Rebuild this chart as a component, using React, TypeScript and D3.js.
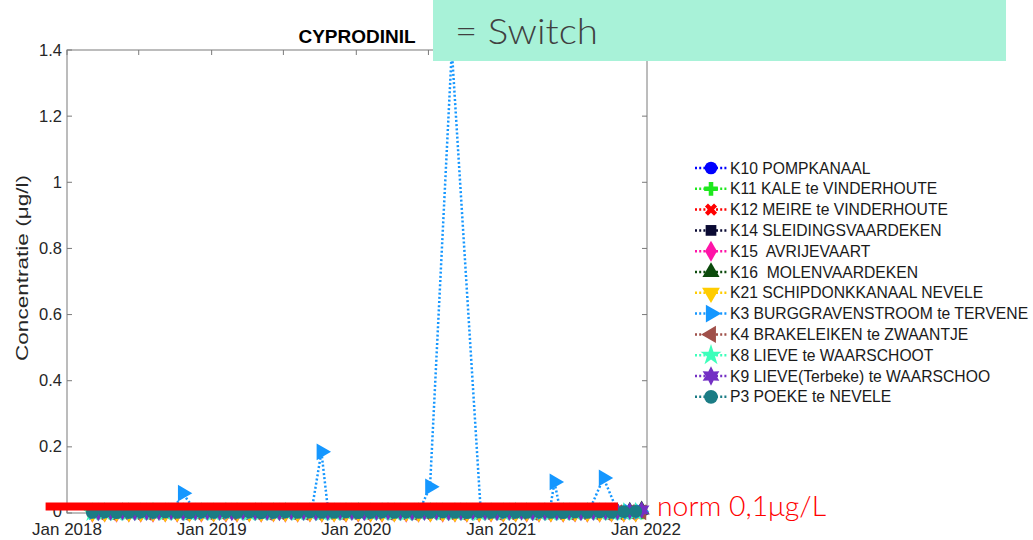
import * as React from 'react';
import * as d3 from 'd3';

import type { RefObject } from 'react';

// sampling dates (two sampling rounds per month)
const datesA = [
  '2018-03-06', '2018-04-06', '2018-05-06', '2018-06-06', '2018-07-06', '2018-08-06', '2018-09-06', '2018-10-06', '2018-11-06', '2018-12-06',
  '2019-01-06', '2019-02-06', '2019-03-06', '2019-04-06', '2019-05-06', '2019-06-06', '2019-07-06', '2019-08-06', '2019-09-06', '2019-10-06', '2019-11-06', '2019-12-06',
  '2020-01-06', '2020-02-06', '2020-03-06', '2020-04-06', '2020-05-06', '2020-06-06', '2020-07-06', '2020-08-06', '2020-09-06', '2020-10-06', '2020-11-06', '2020-12-06',
  '2021-01-06', '2021-02-06', '2021-03-06', '2021-04-06', '2021-05-06', '2021-06-06', '2021-07-06', '2021-08-06', '2021-09-06', '2021-10-06', '2021-11-06', '2021-12-06',
];
const datesB = [
  '2018-03-21', '2018-04-21', '2018-05-21', '2018-06-21', '2018-07-21', '2018-08-21', '2018-09-21', '2018-10-21', '2018-11-21', '2018-12-21',
  '2019-01-21', '2019-02-21', '2019-03-21', '2019-04-21', '2019-05-21', '2019-06-21', '2019-07-21', '2019-08-21', '2019-09-21', '2019-10-21', '2019-11-21', '2019-12-21',
  '2020-01-21', '2020-02-21', '2020-03-21', '2020-04-21', '2020-05-21', '2020-06-21', '2020-07-21', '2020-08-21', '2020-09-21', '2020-10-21', '2020-11-21', '2020-12-21',
  '2021-01-21', '2021-02-21', '2021-03-21', '2021-04-21', '2021-05-21', '2021-06-21', '2021-07-21', '2021-08-21', '2021-09-21', '2021-10-21', '2021-11-21', '2021-12-21',
];

const k10Values = [
  0.002, 0.001, 0.003, 0.002, 0.002, 0.001, 0.002, 0.003, 0.002, 0.002,
  0.001, 0.002, 0.002, 0.003, 0.002, 0.001, 0.002, 0.002, 0.003, 0.002, 0.001, 0.002,
  0.002, 0.002, 0.001, 0.003, 0.002, 0.002, 0.001, 0.002, 0.003, 0.002, 0.002, 0.001,
  0.002, 0.002, 0.003, 0.001, 0.002, 0.002, 0.002, 0.001, 0.003, 0.002, 0.002, 0.002,
];
const k11Values = [
  0.001, 0.000, 0.002, 0.001, 0.000, 0.002, 0.001, 0.000, 0.001, 0.002,
  0.000, 0.001, 0.002, 0.000, 0.001, 0.001, 0.002, 0.000, 0.001, 0.000, 0.002, 0.001,
  0.001, 0.002, 0.000, 0.001, 0.000, 0.002, 0.001, 0.001, 0.000, 0.002, 0.001, 0.000,
  0.002, 0.001, 0.000, 0.001, 0.002, 0.000, 0.001, 0.002, 0.000, 0.001, 0.001, 0.000,
];
const k12Values = [
  0.001, 0.002, 0.000, 0.001, 0.002, 0.000, 0.001, 0.001, 0.002, 0.000,
  0.001, 0.000, 0.002, 0.001, 0.000, 0.002, 0.001, 0.000, 0.001, 0.002, 0.000, 0.001,
  0.002, 0.000, 0.001, 0.001, 0.002, 0.000, 0.001, 0.002, 0.000, 0.001, 0.001, 0.002,
  0.000, 0.001, 0.002, 0.000, 0.001, 0.001, 0.002, 0.000, 0.001, 0.002, 0.001, 0.000,
];
const k14Values = [
  0.003, 0.004, 0.002, 0.003, 0.004, 0.003, 0.002, 0.004, 0.003, 0.004,
  0.002, 0.003, 0.004, 0.003, 0.002, 0.004, 0.003, 0.004, 0.002, 0.003, 0.004, 0.003,
  0.004, 0.002, 0.003, 0.004, 0.003, 0.002, 0.004, 0.003, 0.004, 0.002, 0.003, 0.004,
  0.003, 0.004, 0.002, 0.003, 0.004, 0.003, 0.002, 0.004, 0.003, 0.004, 0.006, 0.008,
];
const k15Values = [
  0.000, 0.001, 0.000, 0.001, 0.000, 0.000, 0.001, 0.000, 0.001, 0.000,
  0.001, 0.000, 0.000, 0.001, 0.000, 0.001, 0.000, 0.000, 0.001, 0.000, 0.001, 0.000,
  0.000, 0.001, 0.000, 0.001, 0.000, 0.000, 0.001, 0.000, 0.001, 0.000, 0.000, 0.001,
  0.000, 0.001, 0.000, 0.000, 0.001, 0.000, 0.001, 0.000, 0.000, 0.001, 0.000, 0.001,
];
const k16Values = [
  0.003, 0.002, 0.004, 0.002, 0.003, 0.002, 0.002, 0.004, 0.003, 0.002,
  0.002, 0.003, 0.002, 0.004, 0.002, 0.003, 0.002, 0.002, 0.003, 0.004, 0.002, 0.003,
  0.002, 0.002, 0.004, 0.003, 0.002, 0.002, 0.003, 0.002, 0.004, 0.002, 0.003, 0.002,
  0.003, 0.002, 0.002, 0.004, 0.002, 0.003, 0.002, 0.002, 0.003, 0.004, 0.006, 0.010,
];
const k21Values = [
  0.000, 0.000, 0.001, 0.000, 0.000, 0.001, 0.000, 0.000, 0.000, 0.001,
  0.000, 0.001, 0.000, 0.000, 0.000, 0.001, 0.000, 0.000, 0.001, 0.000, 0.000, 0.000,
  0.001, 0.000, 0.000, 0.000, 0.001, 0.000, 0.000, 0.001, 0.000, 0.000, 0.000, 0.001,
  0.000, 0.000, 0.001, 0.000, 0.000, 0.000, 0.001, 0.000, 0.000, 0.001, 0.000, 0.000,
];
const k4Values = [
  0.002, 0.001, 0.003, 0.002, 0.001, 0.002, 0.003, 0.001, 0.002, 0.002,
  0.003, 0.001, 0.002, 0.002, 0.001, 0.003, 0.002, 0.001, 0.002, 0.003, 0.001, 0.002,
  0.002, 0.003, 0.001, 0.002, 0.001, 0.003, 0.002, 0.002, 0.001, 0.003, 0.002, 0.001,
  0.002, 0.003, 0.001, 0.002, 0.002, 0.001, 0.003, 0.002, 0.001, 0.002, 0.003, 0.002,
];
const k8Values = [
  0.001, 0.002, 0.000, 0.002, 0.001, 0.003, 0.001, 0.002, 0.000, 0.002,
  0.001, 0.003, 0.002, 0.000, 0.001, 0.002, 0.003, 0.001, 0.002, 0.000, 0.001, 0.002,
  0.003, 0.001, 0.002, 0.001, 0.000, 0.002, 0.003, 0.001, 0.002, 0.001, 0.000, 0.002,
  0.001, 0.003, 0.002, 0.001, 0.000, 0.002, 0.001, 0.003, 0.002, 0.001, 0.002, 0.003,
];
const k9Values = [
  0.002, 0.003, 0.004, 0.002, 0.003, 0.003, 0.004, 0.002, 0.003, 0.004,
  0.003, 0.002, 0.004, 0.003, 0.003, 0.002, 0.004, 0.003, 0.002, 0.003, 0.004, 0.003,
  0.002, 0.003, 0.004, 0.003, 0.002, 0.003, 0.004, 0.002, 0.003, 0.004, 0.003, 0.002,
  0.003, 0.004, 0.002, 0.003, 0.003, 0.004, 0.002, 0.003, 0.004, 0.004, 0.006, 0.009,
];
const p3Values = [
  0.002, 0.003, 0.001, 0.002, 0.003, 0.002, 0.003, 0.002, 0.001, 0.003,
  0.002, 0.003, 0.002, 0.003, 0.001, 0.002, 0.003, 0.002, 0.003, 0.002, 0.002, 0.003,
  0.001, 0.002, 0.003, 0.002, 0.003, 0.002, 0.002, 0.003, 0.002, 0.001, 0.003, 0.002,
  0.003, 0.002, 0.002, 0.003, 0.002, 0.001, 0.003, 0.002, 0.003, 0.002, 0.004, 0.005,
];

// K3 has its own sampling (the peaks)
const k3Dates = [
  '2018-03-10', '2018-04-12', '2018-05-10', '2018-06-14', '2018-07-12', '2018-08-16', '2018-09-25', '2018-10-20', '2018-11-22', '2018-12-13',
  '2019-01-17', '2019-02-14', '2019-03-14', '2019-04-11', '2019-05-16', '2019-06-13', '2019-07-11', '2019-08-08', '2019-09-10', '2019-10-05', '2019-10-22', '2019-12-05',
  '2020-01-09', '2020-02-13', '2020-03-12', '2020-04-09', '2020-05-14', '2020-06-08', '2020-07-05', '2020-08-29', '2020-11-10', '2020-12-10',
  '2021-01-14', '2021-02-11', '2021-03-11', '2021-04-15', '2021-05-03', '2021-05-15', '2021-05-30', '2021-07-01', '2021-08-10', '2021-09-16', '2021-10-21', '2021-11-18', '2021-12-16',
];
const k3Values = [
  0.004, 0.005, 0.004, 0.005, 0.004, 0.005, 0.006, 0.060, 0.005, 0.004,
  0.005, 0.004, 0.005, 0.004, 0.005, 0.004, 0.005, 0.004, 0.005, 0.185, 0.005, 0.004,
  0.005, 0.004, 0.005, 0.004, 0.005, 0.006, 0.079, 1.400, 0.005, 0.004,
  0.005, 0.004, 0.005, 0.004, 0.005, 0.094, 0.005, 0.004, 0.005, 0.106, 0.005, 0.004, 0.005,
];

const seriesNames = [
  'K10 POMPKANAAL',
  'K11 KALE te VINDERHOUTE',
  'K12 MEIRE te VINDERHOUTE',
  'K14 SLEIDINGSVAARDEKEN',
  'K15  AVRIJEVAART',
  'K16  MOLENVAARDEKEN',
  'K21 SCHIPDONKKANAAL NEVELE',
  'K3 BURGGRAVENSTROOM te TERVENE',
  'K4 BRAKELEIKEN te ZWAANTJE',
  'K8 LIEVE te WAARSCHOOT',
  'K9 LIEVE(Terbeke) te WAARSCHOO',
  'P3 POEKE te NEVELE',
];

const yTicks = [0, 0.2, 0.4, 0.6, 0.8, 1, 1.2, 1.4];

// annotation overlay
const normStart = '2017-11-08';
const normEnd = '2021-10-22';
const normLevel = 0.02;

const hexagram = {
  draw(ctx: any, size: number) {
    const r = Math.sqrt(size / 1.6);
    for (let i = 0; i < 12; i++) {
      const rr = i % 2 === 0 ? r : r * 0.55;
      const a = (i * Math.PI) / 6 - Math.PI / 2;
      if (i === 0) ctx.moveTo(rr * Math.cos(a), rr * Math.sin(a));
      else ctx.lineTo(rr * Math.cos(a), rr * Math.sin(a));
    }
    ctx.closePath();
  },
};

interface Style {
  color: string;
  symbol: any;
  size: number;
  rotate: number;
}

const styles: Style[] = [
  { color: '#0000ff', symbol: d3.symbolCircle, size: 110, rotate: 0 },
  { color: '#1ee81e', symbol: d3.symbolCross, size: 90, rotate: 0 },
  { color: '#ff0000', symbol: d3.symbolCross, size: 80, rotate: 45 },
  { color: '#0a0a33', symbol: d3.symbolSquare, size: 100, rotate: 0 },
  { color: '#ff14a8', symbol: d3.symbolDiamond, size: 110, rotate: 0 },
  { color: '#0b4a0b', symbol: d3.symbolTriangle, size: 110, rotate: 0 },
  { color: '#ffcc00', symbol: d3.symbolTriangle, size: 120, rotate: 180 },
  { color: '#1597ff', symbol: d3.symbolTriangle, size: 120, rotate: 90 },
  { color: '#a0504a', symbol: d3.symbolTriangle, size: 110, rotate: 270 },
  { color: '#3dffbb', symbol: d3.symbolStar, size: 120, rotate: 0 },
  { color: '#7430c4', symbol: hexagram, size: 130, rotate: 0 },
  { color: '#1b7c85', symbol: d3.symbolCircle, size: 130, rotate: 0 },
];

const seriesDates = [datesA, datesB, datesA, datesB, datesA, datesB, datesA, k3Dates, datesB, datesA, datesB, datesA];
const seriesValues = [
  k10Values, k11Values, k12Values, k14Values, k15Values, k16Values,
  k21Values, k3Values, k4Values, k8Values, k9Values, p3Values,
];

const FONT = "'Liberation Sans', Arial, Helvetica, sans-serif";
const THIN = "Lato, 'Open Sans', 'Noto Sans', sans-serif";

const Chart = () => {
  const ref: RefObject<SVGSVGElement | null> = React.useRef(null);

  const width = 1033;
  const height = 540;
  const plot = { left: 67, right: 647, top: 50, bottom: 513 };

  React.useEffect(() => {
    draw();
  });

  const draw = () => {
    const svg = d3.select(ref.current);
    svg.selectAll('*').remove();

    const x = d3
      .scaleUtc()
      .domain([new Date(Date.UTC(2018, 0, 1)), new Date(Date.UTC(2022, 0, 1))])
      .range([plot.left, 646]);
    const y = d3.scaleLinear().domain([0, 1.4]).range([plot.bottom, plot.top]);

    svg.append('rect').attr('width', width).attr('height', height).attr('fill', '#fff');

    // axes box + ticks
    const axis = svg.append('g').attr('stroke', '#7a7a7a').attr('stroke-width', 1);
    axis
      .append('rect')
      .attr('x', plot.left)
      .attr('y', plot.top)
      .attr('width', plot.right - plot.left)
      .attr('height', plot.bottom - plot.top)
      .attr('fill', 'none');

    const xTicks = x.ticks(d3.utcMonth.every(6) as any);
    xTicks.forEach((t) => {
      axis.append('line').attr('x1', x(t)).attr('x2', x(t)).attr('y1', plot.bottom).attr('y2', plot.bottom - 5);
      axis.append('line').attr('x1', x(t)).attr('x2', x(t)).attr('y1', plot.top).attr('y2', plot.top + 5);
    });
    yTicks.forEach((v) => {
      axis.append('line').attr('x1', plot.left).attr('x2', plot.left + 5).attr('y1', y(v)).attr('y2', y(v));
      axis.append('line').attr('x1', plot.right).attr('x2', plot.right - 5).attr('y1', y(v)).attr('y2', y(v));
    });

    svg
      .append('g')
      .selectAll('text')
      .data(yTicks)
      .join('text')
      .attr('x', 62)
      .attr('y', (d) => y(d) - (d === 0 ? 2 : 0))
      .attr('dy', '0.34em')
      .attr('text-anchor', 'end')
      .attr('font-family', FONT)
      .attr('font-size', 16.5)
      .attr('fill', '#262626')
      .text((d) => String(d));

    svg
      .append('g')
      .selectAll('text')
      .data(xTicks.filter((t) => t.getUTCMonth() === 0))
      .join('text')
      .attr('x', (d) => x(d))
      .attr('y', 535)
      .attr('text-anchor', 'middle')
      .attr('font-family', FONT)
      .attr('font-size', 17)
      .attr('fill', '#262626')
      .text((d) => d3.utcFormat('%b %Y')(d));

    svg
      .append('text')
      .attr('transform', 'translate(28, 268) rotate(-90)')
      .attr('text-anchor', 'middle')
      .attr('font-family', FONT)
      .attr('font-size', 17)
      .attr('fill', '#262626')
      .attr('textLength', 186)
      .attr('lengthAdjust', 'spacingAndGlyphs')
      .text('Concentratie (μg/l)');

    svg
      .append('text')
      .attr('x', 357)
      .attr('y', 43)
      .attr('text-anchor', 'middle')
      .attr('font-family', FONT)
      .attr('font-weight', 'bold')
      .attr('font-size', 19)
      .attr('fill', '#000')
      .text('CYPRODINIL');

    // series
    const line = d3
      .line<{ date: Date; value: number }>()
      .x((d) => x(d.date))
      .y((d) => y(d.value));

    seriesValues.forEach((vals, i) => {
      const st = styles[i];
      const data = vals
        .map((v, j) => ({ date: new Date(seriesDates[i][j] + 'T00:00:00Z'), value: v }))
        .filter((d) => !isNaN(d.date.getTime()));
      const g = svg.append('g');
      g.append('path')
        .datum(data)
        .attr('fill', 'none')
        .attr('stroke', st.color)
        .attr('stroke-width', 2.5)
        .attr('stroke-dasharray', '2 2.2')
        .attr('d', line);
      const sym = d3.symbol().type(st.symbol).size(st.size);
      g.selectAll('path.m')
        .data(data)
        .join('path')
        .attr('class', 'm')
        .attr('transform', (d) => `translate(${x(d.date)},${y(d.value)}) rotate(${st.rotate})`)
        .attr('fill', st.color)
        .attr('d', sym() as string);
    });

    // legend
    const lg = svg.append('g');
    seriesNames.forEach((name, i) => {
      const st = styles[i];
      const ly = 168 + i * 20.8;
      lg.append('line')
        .attr('x1', 695)
        .attr('x2', 727)
        .attr('y1', ly)
        .attr('y2', ly)
        .attr('stroke', st.color)
        .attr('stroke-width', 2.5)
        .attr('stroke-dasharray', '2 2.2');
      lg.append('path')
        .attr('transform', `translate(711,${ly}) rotate(${st.rotate})`)
        .attr('fill', st.color)
        .attr('d', d3.symbol().type(st.symbol).size(st.size * 1.15)() as string);
      lg.append('text')
        .attr('x', 730)
        .attr('y', ly)
        .attr('dy', '0.36em')
        .attr('font-family', FONT)
        .attr('font-size', 15.7)
        .attr('fill', '#1a1a1a')
        .style('white-space', 'pre')
        .text(name);
    });

    // norm annotation
    svg
      .append('line')
      .attr('x1', x(new Date(normStart + 'T00:00:00Z')))
      .attr('x2', x(new Date(normEnd + 'T00:00:00Z')))
      .attr('y1', y(normLevel))
      .attr('y2', y(normLevel))
      .attr('stroke', '#ff0000')
      .attr('stroke-width', 8);
    svg
      .append('text')
      .attr('x', 657)
      .attr('y', 516)
      .attr('font-family', THIN)
      .attr('font-weight', 300)
      .attr('font-size', 28)
      .attr('fill', '#ff0000')
      .attr('textLength', 169)
      .attr('lengthAdjust', 'spacingAndGlyphs')
      .text('norm 0,1μg/L');

    // switch banner
    svg.append('rect').attr('x', 433).attr('y', 0).attr('width', 573).attr('height', 61).attr('fill', '#a8f2d8');
    svg
      .append('text')
      .attr('x', 455)
      .attr('y', 44)
      .attr('font-family', THIN)
      .attr('font-weight', 300)
      .attr('font-size', 36)
      .attr('fill', '#404040')
      .attr('textLength', 143)
      .attr('lengthAdjust', 'spacingAndGlyphs')
      .style('white-space', 'pre')
      .text('= Switch');
  };

  return (
    <svg
      ref={ref}
      width={width}
      height={height}
      style={{ position: 'absolute', left: 0, top: 0 }}
    />
  );
};

export default function App() {
  return <Chart />;
}
